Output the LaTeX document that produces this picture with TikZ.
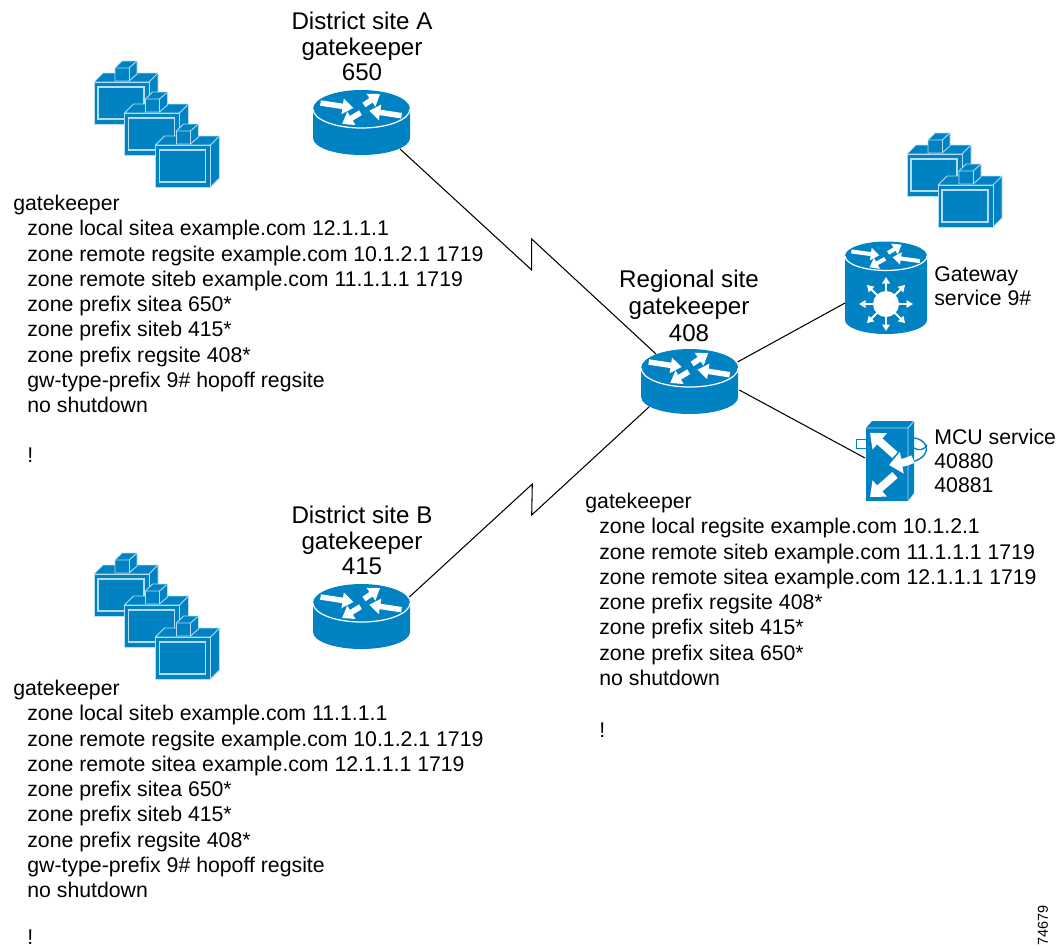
\documentclass[tikz,border=0pt]{standalone}
\usepackage{fontspec}
\setmainfont{Liberation Sans}
\usetikzlibrary{arrows.meta}
\definecolor{ciscoblue}{HTML}{0082C3}
\definecolor{edgeblue}{HTML}{B5DCF2}
\newcommand{\zn}{\hspace*{.28cm}}
\newcommand{\routerarrows}{
  \draw[routerarrow] (-41,-6) -- (-8,-1);
  \draw[routerarrow] (2.5,-4) -- (18.5,-15);
  \draw[routerarrow] (-1,3.7) -- (-19.5,15);
  \draw[routerarrow] (40,6.7) -- (7.7,1.7);
  \draw[white,line width=.7pt] (-48.5,0) arc[start angle=180,end angle=0,x radius=48.5,y radius=19];
}
\tikzset{
  routerarrow/.style={white,line width=.11cm,-{Triangle[length=.22cm,width=.3cm]}},
  gwarrow/.style={white,line width=.08cm,-{Triangle[length=.17cm,width=.24cm]}},
  stararrow/.style={white,line width=.04cm,-{Triangle[length=.13cm,width=.15cm]}},
  mcuarrow/.style={white,line width=.16cm,-{Triangle[length=.26cm,width=.42cm]}},
  face/.style={fill=ciscoblue,draw=edgeblue,line width=.5pt,line join=round},
  link/.style={black,line width=.6pt},
  gklabel/.style={anchor=north,inner sep=0,align=center,font=\fontsize{13.75}{14.4}\selectfont},
  svclabel/.style={anchor=north west,inner sep=0,align=left,font=\fontsize{12.1}{13.7}\selectfont},
  config/.style={anchor=north west,inner sep=0,align=left,font=\fontsize{12.1}{14.35}\selectfont},
  router/.pic={
    \fill[ciscoblue] (-48.5,0) -- (-48.5,29) arc[start angle=180,end angle=0,x radius=48.5,y radius=17]
      -- (48.5,0) arc[start angle=0,end angle=-180,x radius=48.5,y radius=19] -- cycle;
    \routerarrows
    \coordinate (-nw) at (-33.7,-14);
    \coordinate (-ne) at (47.8,-6);
    \coordinate (-e) at (49.6,22);
    \coordinate (-sw) at (-40.4,38.7);
    \coordinate (-se) at (38.5,40);
  },
  gateway/.pic={
    \fill[ciscoblue] (-41,0) -- (-41,64) arc[start angle=180,end angle=0,x radius=41,y radius=14]
      -- (41,0) arc[start angle=0,end angle=-180,x radius=41,y radius=14.5] -- cycle;
    \begin{scope}[xscale=.845,yscale=.76,routerarrow/.style={gwarrow}]
      \routerarrows
    \end{scope}
    \fill[white] (0,48) circle(13);
    \foreach \a in {0,45,...,315}
      \draw[stararrow,shift={(0,48)}] (\a:11) -- (\a:27);
    \coordinate (-w) at (-41,47);
  },
  server/.pic={
    \draw[face] (0,0) -- (9,-9) -- (64,-9) -- (64,33) -- (55,42) -- (55,0) -- cycle;
    \draw[face] (55,0) -- (64,-9);
    \draw[face] (0,0) rectangle (55,42);
    \draw[edgeblue,line width=.7pt] (4,5) rectangle (50,37);
    \draw[face] (21,-14) -- (28,-21) -- (43,-21) -- (43,-8) -- (35,-1) -- (21,-1) -- cycle;
    \draw[face] (21,-14) -- (35,-14) -- (43,-21);
    \draw[face] (35,-14) -- (35,-1);
  },
  mcu/.pic={
    \draw[ciscoblue,fill=white,line width=.5pt] (-10,11) rectangle (0,20);
    \fill[ciscoblue] (0,0) -- (6,-7) -- (48,-7) -- (48,65) -- (42,73) -- (0,73) -- cycle;
    \draw[edgeblue,line width=.5pt] (0,0) -- (42,0) -- (48,-7) (42,0) -- (42,73);
    \draw[ciscoblue,line width=.8pt] (48,10) .. controls (58,11) and (64,20) .. (58,27) .. controls (55,31) and (50,33) .. (45,34);
    \draw[ciscoblue,line width=.8pt] (48,20) .. controls (53,23) and (58,22) .. (61,17);
    \draw[mcuarrow] (29,27) -- (4,4.7);
    \draw[mcuarrow] (29,47) -- (4,69);
    \draw[mcuarrow] (47,31) .. controls (40,34) .. (23,37);
    \coordinate (-w) at (-1,30);
  }
}
\begin{document}
\begin{tikzpicture}[x=.02cm,y=-.02cm]
  \useasboundingbox (0,0) rectangle (1064,948);
  \foreach \x/\y in {94/82,124.5/113,155.5/145}
    \pic at (\x,\y) {server};
  \foreach \x/\y in {94/574,124.5/605,155.5/637}
    \pic at (\x,\y) {server};
  \foreach \x/\y in {907/154,938/185}
    \pic at (\x,\y) {server};
  \pic (siteA) at (361.5,109) {router};
  \pic (siteB) at (361.5,603) {router};
  \pic (regional) at (689.7,368) {router};
  \pic (gw) at (886,256) {gateway};
  \pic (conf) at (866,428) {mcu};
  \coordinate (zigAlow) at (531.7,270);
  \coordinate (zigAhigh) at (531.7,239);
  \coordinate (zigBhigh) at (532.3,484);
  \coordinate (zigBlow) at (531.7,515);
  \draw[link] (siteA-se) -- (zigAlow) -- (zigAhigh) -- (regional-nw);
  \draw[link] (siteB-ne) -- (zigBhigh) -- (zigBlow) -- (regional-sw);
  \draw[link] (regional-ne) -- (gw-w);
  \draw[link] (regional-e) -- (conf-w);
  \node (labelA) [gklabel] at (362,12) {District site A\\gatekeeper\\650};
  \node (labelB) [gklabel] at (362,506) {District site B\\gatekeeper\\415};
  \node (labelR) [gklabel,font=\fontsize{13.75}{15.4}\selectfont] at (689,270) {Regional site\\gatekeeper\\408};
  \node (labelG) [svclabel] at (934,266) {Gateway\\service 9\#};
  \node (labelM) [svclabel] at (934,429) {MCU service\\40880\\40881};
  \node (configA) [config] at (13,195) {gatekeeper\\
    \zn zone local sitea example.com 12.1.1.1\\
    \zn zone remote regsite example.com 10.1.2.1 1719\\
    \zn zone remote siteb example.com 11.1.1.1 1719\\
    \zn zone prefix sitea 650*\\
    \zn zone prefix siteb 415*\\
    \zn zone prefix regsite 408*\\
    \zn gw-type-prefix 9\# hopoff regsite\\
    \zn no shutdown\\[.5cm]
    \zn !};
  \node (configB) [config] at (13,680) {gatekeeper\\
    \zn zone local siteb example.com 11.1.1.1\\
    \zn zone remote regsite example.com 10.1.2.1 1719\\
    \zn zone remote sitea example.com 12.1.1.1 1719\\
    \zn zone prefix sitea 650*\\
    \zn zone prefix siteb 415*\\
    \zn zone prefix regsite 408*\\
    \zn gw-type-prefix 9\# hopoff regsite\\
    \zn no shutdown\\[.44cm]
    \zn !};
  \node (configR) [config] at (585,493) {gatekeeper\\
    \zn zone local regsite example.com 10.1.2.1\\
    \zn zone remote siteb example.com 11.1.1.1 1719\\
    \zn zone remote sitea example.com 12.1.1.1 1719\\
    \zn zone prefix regsite 408*\\
    \zn zone prefix siteb 415*\\
    \zn zone prefix sitea 650*\\
    \zn no shutdown\\[.54cm]
    \zn !};
  \node (figid) [rotate=90,anchor=west,inner sep=0,font=\fontsize{8.2}{10}\selectfont] at (1043,946) {74679};
\end{tikzpicture}
\end{document}
